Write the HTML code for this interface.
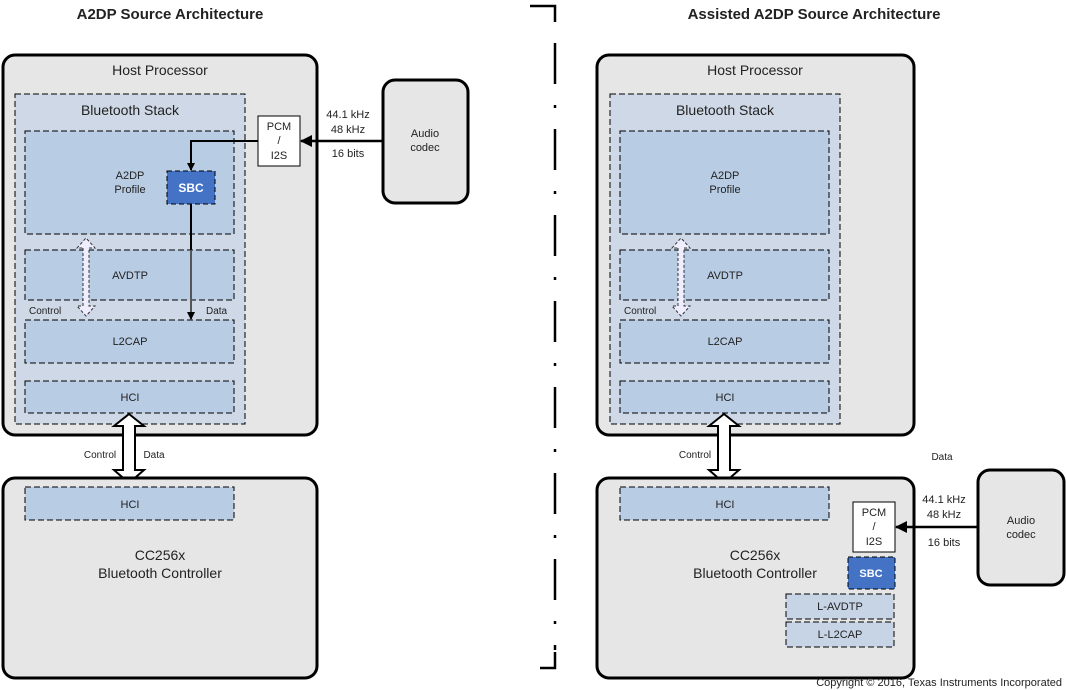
<!DOCTYPE html>
<html><head><meta charset="utf-8"><style>
html,body{margin:0;padding:0;background:#fff}
svg{display:block}
text{font-family:"Liberation Sans",sans-serif;fill:#222}
</style></head><body>
<svg width="1066" height="690" viewBox="0 0 1066 690" xmlns="http://www.w3.org/2000/svg">
<defs>
<marker id="ah" markerWidth="8" markerHeight="8" refX="7" refY="4" orient="auto" markerUnits="userSpaceOnUse"><path d="M0,0 L8,4 L0,8 z" fill="#000"/></marker>
<marker id="ah2" markerWidth="12" markerHeight="12" refX="11" refY="6" orient="auto" markerUnits="userSpaceOnUse"><path d="M0,0 L12,6 L0,12 z" fill="#000"/></marker>
</defs>
<text x="170" y="19" font-size="15" font-weight="bold" text-anchor="middle">A2DP Source Architecture</text>
<text x="814" y="19" font-size="15" font-weight="bold" text-anchor="middle">Assisted A2DP Source Architecture</text>
<!-- divider -->
<path d="M530,6 H555 V22" fill="none" stroke="#000" stroke-width="2.5"/>
<line x1="555" y1="43" x2="555" y2="650" stroke="#000" stroke-width="2.5" stroke-dasharray="41 21 3 21"/>
<path d="M555,652 V668 H540" fill="none" stroke="#000" stroke-width="2.5"/>

<rect x="3" y="55" width="314" height="380" rx="12" fill="#e6e6e6" stroke="#000" stroke-width="3"/>
<text x="160" y="75" font-size="14" text-anchor="middle">Host Processor</text>
<rect x="15" y="94" width="230" height="330" fill="#ced8e6" stroke="#000" stroke-dasharray="6 3"/>
<text x="130" y="115" font-size="14" text-anchor="middle">Bluetooth Stack</text>
<rect x="25" y="131" width="209" height="103" fill="#b8cce4" stroke="#000" stroke-dasharray="6 3"/>
<rect x="25" y="250" width="209" height="50" fill="#b8cce4" stroke="#000" stroke-dasharray="6 3"/>
<rect x="25" y="320" width="209" height="43" fill="#b8cce4" stroke="#000" stroke-dasharray="6 3"/>
<rect x="25" y="381" width="209" height="32" fill="#b8cce4" stroke="#000" stroke-dasharray="6 3"/>
<text x="130" y="179" font-size="11" text-anchor="middle">A2DP</text>
<text x="130" y="193" font-size="11" text-anchor="middle">Profile</text>
<text x="130" y="279" font-size="11" text-anchor="middle">AVDTP</text>
<text x="130" y="345" font-size="11" text-anchor="middle">L2CAP</text>
<text x="130" y="401" font-size="11" text-anchor="middle">HCI</text>
<rect x="167" y="171" width="48" height="33" fill="#4472c4" stroke="#000" stroke-dasharray="5 3"/>
<text x="191" y="192" font-size="12" font-weight="bold" text-anchor="middle" style="fill:#fff">SBC</text>
<rect x="258" y="116" width="42" height="50" fill="#fff" stroke="#000"/>
<text x="279" y="130" font-size="11" text-anchor="middle">PCM</text>
<text x="279" y="144" font-size="11" text-anchor="middle">/</text>
<text x="279" y="159" font-size="11" text-anchor="middle">I2S</text>
<rect x="383" y="80" width="85" height="123" rx="12" fill="#e6e6e6" stroke="#000" stroke-width="3"/>
<text x="425" y="137" font-size="11" text-anchor="middle">Audio</text>
<text x="425" y="151" font-size="11" text-anchor="middle">codec</text>
<line x1="383" y1="141" x2="301" y2="141" stroke="#000" stroke-width="2.5" marker-end="url(#ah2)"/>
<text x="348" y="118" font-size="11" text-anchor="middle">44.1 kHz</text>
<text x="348" y="133" font-size="11" text-anchor="middle">48 kHz</text>
<text x="348" y="157" font-size="11" text-anchor="middle">16 bits</text>
<path d="M258,141 H191 V170" fill="none" stroke="#000" stroke-width="2" marker-end="url(#ah)"/>
<line x1="191" y1="204" x2="191" y2="250" stroke="#000" stroke-width="2"/>
<line x1="191" y1="250" x2="191" y2="319" stroke="#555" stroke-width="2" marker-end="url(#ah)"/>
<path d="M83,248 V306 H77 L86,316 L95,306 H89 V248 H95 L86,238 L77,248 Z" fill="#eef" stroke="#333" stroke-dasharray="3 2"/>
<text x="29" y="314" font-size="10">Control</text>
<text x="206" y="314" font-size="10">Data</text>
<path d="M123,426 H114 L129,414 L144,426 H135 V470 H144 L129,483 L114,470 H123 Z" fill="#fff" stroke="#000" stroke-width="2"/>
<text x="100" y="458" font-size="10" text-anchor="middle">Control</text>
<text x="154" y="458" font-size="10" text-anchor="middle">Data</text>
<rect x="3" y="478" width="314" height="200" rx="12" fill="#e6e6e6" stroke="#000" stroke-width="3"/>
<rect x="25" y="487" width="209" height="33" fill="#b8cce4" stroke="#000" stroke-dasharray="6 3"/>
<text x="130" y="508" font-size="11" text-anchor="middle">HCI</text>
<text x="160" y="560" font-size="14" text-anchor="middle">CC256x</text>
<text x="160" y="578" font-size="14" text-anchor="middle">Bluetooth Controller</text>

<rect x="597" y="55" width="317" height="380" rx="12" fill="#e6e6e6" stroke="#000" stroke-width="3"/>
<text x="755" y="75" font-size="14" text-anchor="middle">Host Processor</text>
<rect x="610" y="94" width="230" height="330" fill="#ced8e6" stroke="#000" stroke-dasharray="6 3"/>
<text x="725" y="115" font-size="14" text-anchor="middle">Bluetooth Stack</text>
<rect x="620" y="131" width="209" height="103" fill="#b8cce4" stroke="#000" stroke-dasharray="6 3"/>
<rect x="620" y="250" width="209" height="50" fill="#b8cce4" stroke="#000" stroke-dasharray="6 3"/>
<rect x="620" y="320" width="209" height="43" fill="#b8cce4" stroke="#000" stroke-dasharray="6 3"/>
<rect x="620" y="381" width="209" height="32" fill="#b8cce4" stroke="#000" stroke-dasharray="6 3"/>
<text x="725" y="179" font-size="11" text-anchor="middle">A2DP</text>
<text x="725" y="193" font-size="11" text-anchor="middle">Profile</text>
<text x="725" y="279" font-size="11" text-anchor="middle">AVDTP</text>
<text x="725" y="345" font-size="11" text-anchor="middle">L2CAP</text>
<text x="725" y="401" font-size="11" text-anchor="middle">HCI</text>
<path d="M678,248 V306 H672 L681,316 L690,306 H684 V248 H690 L681,238 L672,248 Z" fill="#eef" stroke="#333" stroke-dasharray="3 2"/>
<text x="624" y="314" font-size="10">Control</text>
<path d="M718,426 H709 L724,414 L739,426 H730 V470 H739 L724,483 L709,470 H718 Z" fill="#fff" stroke="#000" stroke-width="2"/>
<text x="695" y="458" font-size="10" text-anchor="middle">Control</text>
<text x="942" y="460" font-size="10" text-anchor="middle">Data</text>
<rect x="597" y="478" width="317" height="200" rx="12" fill="#e6e6e6" stroke="#000" stroke-width="3"/>
<rect x="620" y="487" width="209" height="33" fill="#b8cce4" stroke="#000" stroke-dasharray="6 3"/>
<text x="725" y="508" font-size="11" text-anchor="middle">HCI</text>
<text x="755" y="560" font-size="14" text-anchor="middle">CC256x</text>
<text x="755" y="578" font-size="14" text-anchor="middle">Bluetooth Controller</text>
<rect x="853" y="502" width="42" height="50" fill="#fff" stroke="#000"/>
<text x="874" y="516" font-size="11" text-anchor="middle">PCM</text>
<text x="874" y="530" font-size="11" text-anchor="middle">/</text>
<text x="874" y="545" font-size="11" text-anchor="middle">I2S</text>
<rect x="848" y="557" width="47" height="32" fill="#4472c4" stroke="#000" stroke-dasharray="5 3"/>
<text x="871" y="577" font-size="11" font-weight="bold" text-anchor="middle" style="fill:#fff">SBC</text>
<rect x="786" y="594" width="108" height="25" fill="#c6d4e6" stroke="#000" stroke-dasharray="6 3"/>
<text x="840" y="610" font-size="11" text-anchor="middle">L-AVDTP</text>
<rect x="786" y="622" width="108" height="25" fill="#c6d4e6" stroke="#000" stroke-dasharray="6 3"/>
<text x="840" y="638" font-size="11" text-anchor="middle">L-L2CAP</text>
<rect x="978" y="470" width="86" height="115" rx="12" fill="#e6e6e6" stroke="#000" stroke-width="3"/>
<text x="1021" y="524" font-size="11" text-anchor="middle">Audio</text>
<text x="1021" y="538" font-size="11" text-anchor="middle">codec</text>
<line x1="978" y1="527" x2="896" y2="527" stroke="#000" stroke-width="2.5" marker-end="url(#ah2)"/>
<text x="944" y="503" font-size="11" text-anchor="middle">44.1 kHz</text>
<text x="944" y="518" font-size="11" text-anchor="middle">48 kHz</text>
<text x="944" y="546" font-size="11" text-anchor="middle">16 bits</text>
<text x="1062" y="686" font-size="11" text-anchor="end">Copyright © 2016, Texas Instruments Incorporated</text>
</svg>
</body></html>
